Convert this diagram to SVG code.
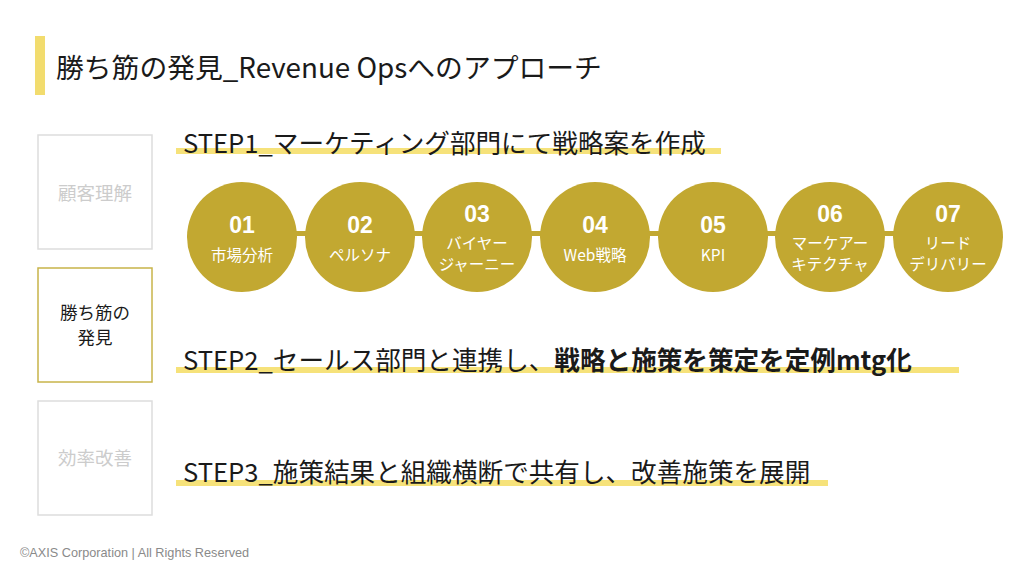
<svg xmlns="http://www.w3.org/2000/svg" width="1024" height="576" viewBox="0 0 1024 576">
<style>
text{font-family:"Noto Sans CJK JP","Noto Sans",sans-serif;}
.title{font-size:27.8px;fill:#1a1a1a;}
.step{font-size:25.6px;fill:#1a1a1a;}
.hl{fill:#F6E27A;}
.circ{fill:#C2A831;}
.num{font-family:"Liberation Sans","Noto Sans CJK JP",sans-serif;font-size:23px;font-weight:bold;fill:#fff;text-anchor:middle;}
.lbl{font-size:15.5px;fill:#fff;text-anchor:middle;}
.box{fill:#fff;stroke:#dddddd;stroke-width:1.5;}
.boxon{fill:#fff;stroke:#C8B44A;stroke-width:1.5;}
.btxt{font-size:18.5px;fill:#cccccc;text-anchor:middle;}
.btxton{font-size:17.5px;fill:#1a1a1a;text-anchor:middle;}
.foot{font-family:"Liberation Sans",Arial,sans-serif;font-size:12.7px;fill:#8a8a8a;}
</style>
<rect width="1024" height="576" fill="#fff"/>
<g id="header">
<rect x="35" y="36" width="10" height="59" fill="#F2DC6E"/>
<text class="title" x="56" y="78">勝ち筋の発見_Revenue Opsへのアプローチ</text>
</g>
<g id="box-customer">
<rect class="box" x="38" y="135" width="114" height="114"/>
<text class="btxt" x="95" y="200">顧客理解</text>
</g>
<g id="box-winning">
<rect class="boxon" x="38" y="268" width="114" height="114"/>
<text class="btxton" x="95" y="319">勝ち筋の</text>
<text class="btxton" x="95" y="344">発見</text>
</g>
<g id="box-efficiency">
<rect class="box" x="38" y="401" width="114" height="114"/>
<text class="btxt" x="95" y="465">効率改善</text>
</g>
<g id="step1">
<rect class="hl" x="176" y="148" width="545" height="6"/>
<text class="step" x="183" y="153">STEP1_マーケティング部門にて戦略案を作成</text>
</g>
<g id="step2">
<rect class="hl" x="176" y="367" width="783" height="6"/>
<text class="step" x="183" y="370">STEP2_セールス部門と連携し、<tspan font-weight="bold">戦略と施策を策定を定例mtg化</tspan></text>
</g>
<g id="step3">
<rect class="hl" x="176" y="480" width="652" height="6"/>
<text class="step" x="183" y="482">STEP3_施策結果と組織横断で共有し、改善施策を展開</text>
</g>
<g id="connectors">
<rect class="circ" x="242" y="231" width="706" height="5"/>
</g>
<g id="c01"><circle class="circ" cx="242" cy="237" r="55"/><text class="num" x="242" y="233">01</text><text class="lbl" x="242" y="261" font-size="17">市場分析</text></g>
<g id="c02"><circle class="circ" cx="360" cy="237" r="55"/><text class="num" x="360" y="233">02</text><text class="lbl" x="360" y="261" font-size="17">ペルソナ</text></g>
<g id="c03"><circle class="circ" cx="477" cy="237" r="55"/><text class="num" x="477" y="222">03</text><text class="lbl" x="477" y="249">バイヤー</text><text class="lbl" x="477" y="270">ジャーニー</text></g>
<g id="c04"><circle class="circ" cx="595" cy="237" r="55"/><text class="num" x="595" y="233">04</text><text class="lbl" x="595" y="261" font-size="16">Web戦略</text></g>
<g id="c05"><circle class="circ" cx="713" cy="237" r="55"/><text class="num" x="713" y="233">05</text><text class="lbl" x="713" y="261" font-size="16">KPI</text></g>
<g id="c06"><circle class="circ" cx="830" cy="237" r="55"/><text class="num" x="830" y="222">06</text><text class="lbl" x="830" y="249">マーケアー</text><text class="lbl" x="830" y="270">キテクチャ</text></g>
<g id="c07"><circle class="circ" cx="948" cy="237" r="55"/><text class="num" x="948" y="222">07</text><text class="lbl" x="948" y="249">リード</text><text class="lbl" x="948" y="270">デリバリー</text></g>
<text class="foot" x="20" y="557">©AXIS Corporation | All Rights Reserved</text>
</svg>
